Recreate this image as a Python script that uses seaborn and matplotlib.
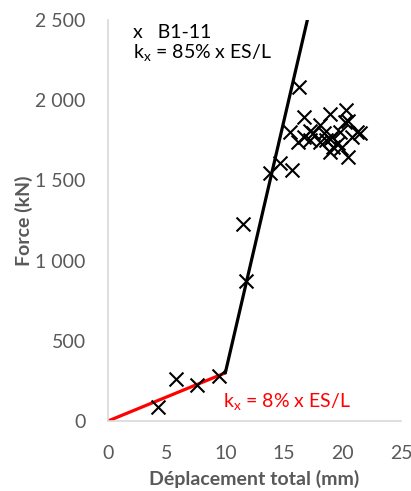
import matplotlib
matplotlib.use('Agg')
import matplotlib.pyplot as plt
from matplotlib.ticker import FuncFormatter, MultipleLocator
import seaborn as sns
import pandas as pd

# test points B1-11
disp = [4.3, 5.8, 7.6, 9.5, 11.5, 11.8, 13.8, 14.7, 15.7, 15.5, 16.3, 16.7, 16.2,
        16.7, 17.2, 17.5, 18.1, 18.1, 18.4, 18.6, 18.9, 19.1, 19.2, 19.6, 19.8,
        19.9, 18.9, 18.9, 20.3, 20.5, 20.5, 20.8, 21.2, 21.5, 20.2, 17.2]
force = [87, 262, 224, 280, 1228, 873, 1546, 1607, 1565, 1804, 2081, 1897, 1742,
         1773, 1810, 1794, 1845, 1742, 1794, 1752, 1914, 1773, 1711, 1732, 1804,
         1700, 1680, 1760, 1939, 1872, 1648, 1773, 1804, 1794, 1866, 1752]

# bilinear stiffness model
k_low_x = [0, 10]
k_low_y = [0, 300]
k_high_x = [10, 17.0]
k_high_y = [300, 2500]

sns.set_style('white')
plt.rcParams['font.family'] = ['Lato', 'DejaVu Sans']

fig = plt.figure(figsize=(4.11, 4.91), dpi=100)
ax = fig.add_axes([0.263, 0.1426, 0.713, 0.8167])

sns.lineplot(x=k_low_x, y=k_low_y, color='#ff0000', linewidth=2.3, ax=ax)
sns.lineplot(x=k_high_x, y=k_high_y, color='black', linewidth=2.3, ax=ax)
sns.scatterplot(x=disp, y=force, marker='x', s=100, color='black',
                linewidth=1.5, ax=ax, zorder=3)

ax.set_xlim(0, 25)
ax.set_ylim(0, 2500)
ax.xaxis.set_major_locator(MultipleLocator(5))
ax.yaxis.set_major_locator(MultipleLocator(500))
ax.yaxis.set_major_formatter(FuncFormatter(lambda v, p: f'{v:,.0f}'.replace(',', ' ')))

grey = '#595959'
ax.tick_params(axis='both', length=0, labelsize=14, labelcolor=grey)
ax.tick_params(axis='x', pad=17)
ax.tick_params(axis='y', pad=16)
ax.set_xlabel('Déplacement total (mm)', fontsize=14, fontweight='bold', color=grey, labelpad=6)
ax.set_ylabel('Force (kN)', fontsize=14, fontweight='bold', color=grey, labelpad=2)

for s in ['top', 'right']:
    ax.spines[s].set_visible(False)
for s in ['left', 'bottom']:
    ax.spines[s].set_color('#d9d9d9')
    ax.spines[s].set_linewidth(1.2)

ax.text(2.1, 2420, 'x   B1-11', fontsize=14, color='black', va='center')
ax.text(2.1, 2295, r'k$_\mathregular{x}$ = 85% x ES/L', fontsize=14, color='black', va='center')
ax.text(9.8, 118, r'k$_\mathregular{x}$ = 8% x ES/L', fontsize=14, color='#ff0000', va='center')

fig.savefig('out.png', dpi=100)
